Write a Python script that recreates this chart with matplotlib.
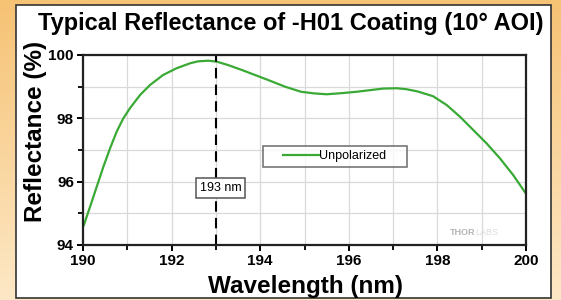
import numpy as np
import matplotlib
matplotlib.use("Agg")
import matplotlib.pyplot as plt
from matplotlib.patches import Rectangle
from matplotlib.ticker import MultipleLocator

# values
wavelength = [190.02, 190.16, 190.31, 190.46, 190.61, 190.76, 190.91, 191.06, 191.29,
              191.51, 191.81, 192.11, 192.42, 192.6, 192.83, 193.02, 193.28, 193.58,
              193.88, 194.18, 194.56, 194.92, 195.2, 195.5, 195.88, 196.18, 196.48,
              196.78, 197.08, 197.3, 197.55, 197.9, 198.21, 198.51, 198.81, 199.11,
              199.41, 199.71, 200.0]
reflectance = [94.63, 95.21, 95.84, 96.47, 97.05, 97.58, 98.0, 98.32, 98.74,
               99.05, 99.37, 99.58, 99.74, 99.8, 99.82, 99.79, 99.68, 99.53,
               99.37, 99.21, 99.0, 98.84, 98.79, 98.76, 98.8, 98.84, 98.89,
               98.94, 98.95, 98.92, 98.85, 98.7, 98.42, 98.05, 97.63, 97.21,
               96.74, 96.21, 95.62]
marker_nm = 193
legend_label = "Unpolarized"

W, H = 561, 300
fig = plt.figure(figsize=(W / 100, H / 100), dpi=100)
font = "Liberation Sans"

# orange gradient background
bg = fig.add_axes([0, 0, 1, 1])
grad = np.linspace(0, 1, 256).reshape(-1, 1)
cmap = matplotlib.colors.LinearSegmentedColormap.from_list("bg", ["#f6c274", "#fde8c6"])
bg.imshow(grad, aspect="auto", cmap=cmap, extent=[0, 1, 0, 1], origin="upper")
bg.axis("off")

# white panel with dark border
bg.add_patch(Rectangle((16 / W, 1 - 298 / H), (551 - 16) / W, (298 - 5) / H,
                       facecolor="white", edgecolor="#333333", linewidth=1.2,
                       transform=bg.transAxes, zorder=2))

ax = fig.add_axes([83 / W, 1 - 245 / H, (526 - 83) / W, (245 - 55) / H])
ax.set_zorder(3)
ax.plot(wavelength, reflectance, color="#3aa935", linewidth=1.6, label=legend_label)
ax.axvline(marker_nm, color="black", linestyle=(0, (5, 3)), linewidth=1.5)
ax.text(marker_nm + 0.1, 95.8, f"{marker_nm} nm", ha="center", va="center", fontsize=9,
        family=font,
        bbox=dict(boxstyle="square,pad=0.3", facecolor="white", edgecolor="#555555", linewidth=1.1))
ax.text(0.885, 0.04, "THOR", transform=ax.transAxes, ha="right", va="bottom",
        fontsize=6.5, fontweight="bold", color="#b5b5b5", family=font)
ax.text(0.885, 0.04, "LABS", transform=ax.transAxes, ha="left", va="bottom",
        fontsize=6.5, color="#dddddd", family=font)

ax.set_xlim(190, 200)
ax.set_ylim(94, 100)
ax.xaxis.set_major_locator(MultipleLocator(2))
ax.xaxis.set_minor_locator(MultipleLocator(1))
ax.yaxis.set_major_locator(MultipleLocator(2))
ax.yaxis.set_minor_locator(MultipleLocator(1))
ax.grid(True, which="both", color="#d9d9d9", linewidth=0.9)
ax.set_axisbelow(True)
for s in ax.spines.values():
    s.set_linewidth(1.6)
    s.set_color("#222222")
ax.tick_params(which="major", direction="out", length=4.5, width=1.4, labelsize=11, pad=2)
ax.tick_params(which="minor", direction="out", length=3.5, width=1.3)
for lbl in ax.get_xticklabels() + ax.get_yticklabels():
    lbl.set_fontweight("bold")
    lbl.set_family(font)

leg = ax.legend(loc="center", bbox_to_anchor=(0.568, 0.466), frameon=True,
                fancybox=False, handlelength=2.9, handletextpad=0.05, borderpad=0.2,
                borderaxespad=0, prop={"family": font, "size": 9})
frame = leg.get_frame()
frame.set_edgecolor("#555555")
frame.set_linewidth(1.2)
# wide horizontal padding, thin vertical padding like the reference box
frame.set_boxstyle("square", pad=1.4)
frame.set_mutation_aspect(0.12)

fig.text(291 / W, 1 - 30 / H, "Typical Reflectance of -H01 Coating (10\u00b0 AOI)",
         ha="center", va="baseline", fontsize=17, fontweight="bold", family=font)
fig.text(305 / W, 1 - 293 / H, "Wavelength (nm)", ha="center", va="baseline",
         fontsize=17.5, fontweight="bold", family=font)
fig.text(42 / W, 1 - 131 / H, "Reflectance (%)", ha="center", va="baseline", rotation=90,
         rotation_mode="anchor", fontsize=17.5, fontweight="bold", family=font)

fig.savefig("out.png", dpi=100)
